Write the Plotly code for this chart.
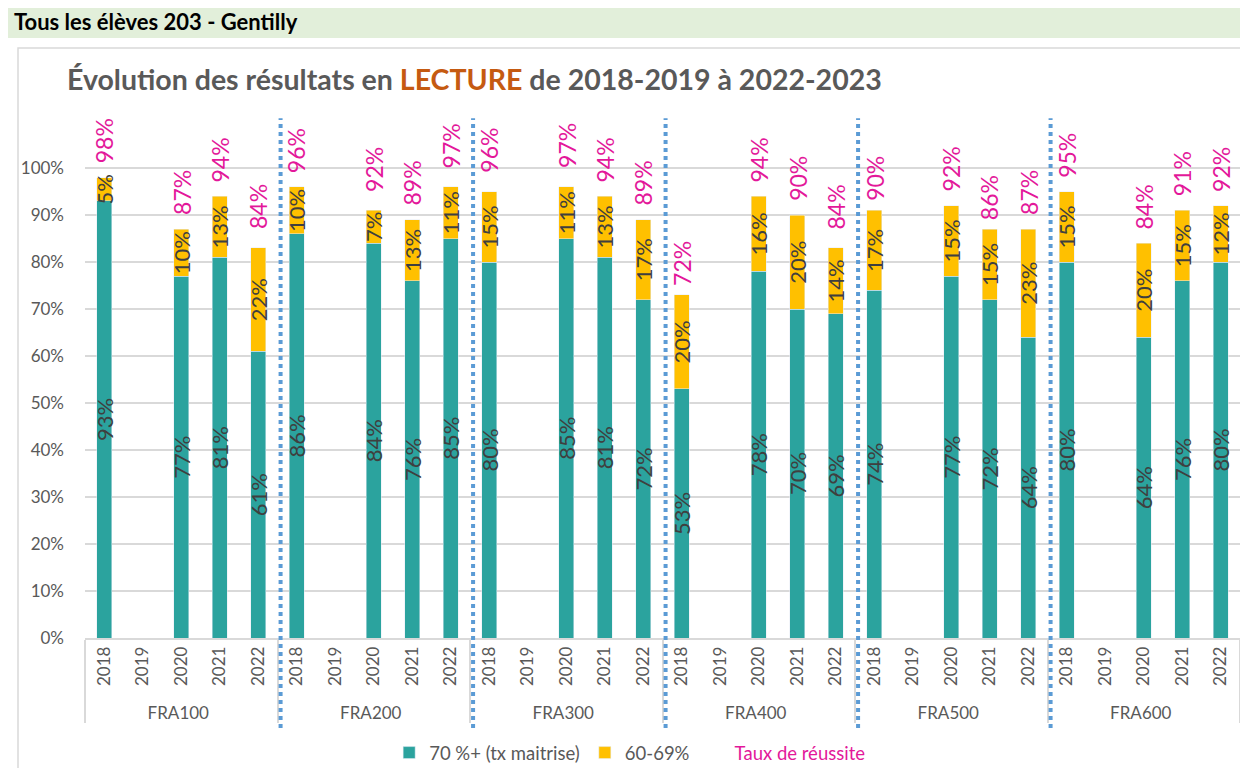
import plotly.graph_objects as go

groups = ["FRA100", "FRA200", "FRA300", "FRA400", "FRA500", "FRA600"]
years = ["2018", "2019", "2020", "2021", "2022"]

maitrise = {
    "FRA100": [93, None, 77, 81, 61],
    "FRA200": [86, None, 84, 76, 85],
    "FRA300": [80, None, 85, 81, 72],
    "FRA400": [53, None, 78, 70, 69],
    "FRA500": [74, None, 77, 72, 64],
    "FRA600": [80, None, 64, 76, 80],
}
soixante = {
    "FRA100": [5, None, 10, 13, 22],
    "FRA200": [10, None, 7, 13, 11],
    "FRA300": [15, None, 11, 13, 17],
    "FRA400": [20, None, 16, 20, 14],
    "FRA500": [17, None, 15, 15, 23],
    "FRA600": [15, None, 20, 15, 12],
}
taux = {
    "FRA100": [98, None, 87, 94, 84],
    "FRA200": [96, None, 92, 89, 97],
    "FRA300": [96, None, 97, 94, 89],
    "FRA400": [72, None, 94, 90, 84],
    "FRA500": [90, None, 92, 86, 87],
    "FRA600": [95, None, 84, 91, 92],
}
yticks = [0, 10, 20, 30, 40, 50, 60, 70, 80, 90, 100]

TEAL = "#2BA39E"
YELLOW = "#FFC000"
PINK = "#E3189A"
GRAY = "#595959"
DARK = "#3F3F3F"
FONT = "Lato"

xg, xy = [], []
for g in groups:
    for y in years:
        xg.append(g)
        xy.append(y)

def flat(d):
    out = []
    for g in groups:
        out.extend(d[g])
    return out

m = flat(maitrise)
s = flat(soixante)
t = flat(taux)

def frac(v):
    return [None if a is None else a / 100 for a in v]

def lab(v):
    return ["" if a is None else f"{a}%" for a in v]

fig = go.Figure()
fig.add_trace(go.Bar(
    x=[xg, xy], y=frac(m), name="70 %+ (tx maitrise)", marker_color=TEAL,
    text=lab(m), textposition="inside", insidetextanchor="middle", textangle=-90,
    constraintext="none", textfont=dict(color=DARK, size=22, family=FONT),
    width=0.39,
))
fig.add_trace(go.Bar(
    x=[xg, xy], y=frac(s), name="60-69%", marker_color=YELLOW,
    text=lab(s), textposition="inside", insidetextanchor="middle", textangle=-90,
    constraintext="none", textfont=dict(color=DARK, size=22, family=FONT),
    width=0.39,
))
fig.add_trace(go.Scatter(
    x=[xg, xy], y=frac(t), mode="markers",
    marker=dict(color="rgba(0,0,0,0)", size=1, line=dict(width=0)),
    name=f"<span style='color:{PINK}'>Taux de réussite</span>", hoverinfo="skip",
))

annotations = []
for i, v in enumerate(t):
    if v is None:
        continue
    annotations.append(dict(
        x=i, y=v / 100, xref="x", yref="y", text=f"{v}%", textangle=-90,
        showarrow=False, yanchor="bottom", xanchor="center", yshift=12,
        font=dict(color=PINK, size=23, family=FONT),
    ))

# banner
annotations.append(dict(
    x=-0.0632, y=1.178, xref="paper", yref="paper", xanchor="left", yanchor="middle",
    text="<b>Tous les élèves 203 - Gentilly</b>", showarrow=False,
    font=dict(color="black", size=22, family=FONT),
))

shapes = [
    dict(type="rect", xref="paper", yref="paper", x0=-0.0667, x1=1.02, y0=1.147, y1=1.25,
         fillcolor="#E2EFDA", line=dict(width=0), layer="below"),
    dict(type="rect", xref="paper", yref="paper", x0=-0.058, x1=1.02, y0=-0.30, y1=1.128,
         fillcolor="rgba(0,0,0,0)", line=dict(color="#D9D9D9", width=1.5), layer="below"),
]
for k in range(1, len(groups)):
    xpos = k * len(years) - 0.42
    shapes.append(dict(type="line", xref="x", yref="paper", x0=xpos, x1=xpos,
                       y0=-0.172, y1=0.994,
                       line=dict(color="#5B9BD5", width=4, dash="dot")))

W, H = 1240, 760
fig.update_layout(
    width=W, height=H,
    margin=dict(l=77, r=8, t=107, b=130, autoexpand=False),
    paper_bgcolor="white", plot_bgcolor="white",
    barmode="stack",
    font=dict(family=FONT, color=GRAY),
    title=dict(
        text=f"<b>Évolution des résultats en <span style='color:#C55A11'>LECTURE</span> de 2018-2019 à 2022-2023</b>",
        x=59 / W, xanchor="left", xref="container",
        y=1 - 72 / H, yanchor="middle", yref="container",
        font=dict(size=28.5, color=GRAY, family=FONT),
    ),
    showlegend=True,
    legend=dict(orientation="h", x=0.472, xanchor="center", y=-0.22, yanchor="middle",
                font=dict(size=18.5, color=GRAY, family=FONT), traceorder="normal",
                itemwidth=30),
    annotations=annotations,
    shapes=shapes,
    xaxis=dict(
        type="multicategory", tickangle=-90, tickfont=dict(size=17, color=GRAY, family=FONT),
        range=[-0.5, len(groups) * len(years) - 0.5], automargin=False,
        showdividers=True, dividercolor="#D9D9D9", dividerwidth=1.5,
        showline=True, linecolor="#D9D9D9", linewidth=1.5, showgrid=False,
    ),
    yaxis=dict(
        range=[0, 1.113], tickvals=[v / 100 for v in yticks],
        ticktext=[f"{v}%" for v in yticks], automargin=False,
        tickfont=dict(size=17, color=GRAY, family=FONT),
        showgrid=True, gridcolor="#D9D9D9", gridwidth=1.5, zeroline=False,
        showline=False, ticklabelstandoff=20,
    ),
    bargap=0.6,
)

fig.write_html("out.html")
